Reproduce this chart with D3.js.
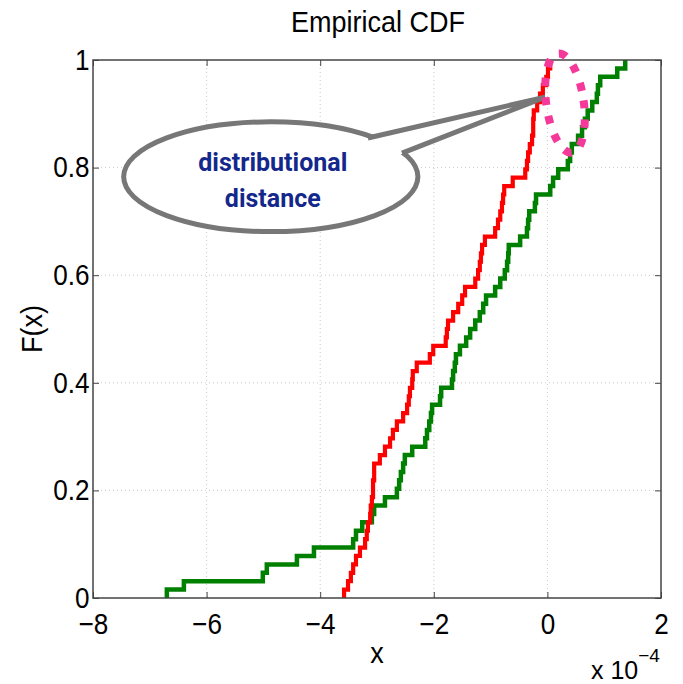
<!DOCTYPE html>
<html>
<head>
<meta charset="utf-8">
<script src="https://cdn.jsdelivr.net/npm/d3@7"></script>
<style>
  html, body { margin: 0; padding: 0; background: #fff; }
  svg { display: block; }
</style>
</head>
<body>
<script>
// Sorted samples (units of 1e-4) for the two empirical distributions
const redSamples = [
  -3.58, -3.51, -3.46, -3.42, -3.37, -3.30, -3.21, -3.18, -3.16, -3.12,
  -3.11, -3.09, -3.07, -3.07, -3.05, -3.05, -2.95, -2.86, -2.77, -2.72,
  -2.65, -2.54, -2.47, -2.44, -2.42, -2.38, -2.37, -2.30, -2.07, -2.01,
  -1.79, -1.77, -1.75, -1.66, -1.57, -1.50, -1.45, -1.27, -1.22, -1.19,
  -1.17, -1.15, -1.10, -0.92, -0.87, -0.83, -0.80, -0.78, -0.76, -0.61,
  -0.39, -0.36, -0.34, -0.31, -0.27, -0.25, -0.25, -0.24, -0.18, -0.13,
  -0.08, -0.02, 0.01, 0.05
];
const greenSamples = [
  -6.70, -6.40, -5.01, -4.94, -4.41, -4.11, -3.42, -3.37, -3.26, -3.09,
  -3.05, -2.86, -2.65, -2.61, -2.58, -2.54, -2.51, -2.38, -2.15, -2.12,
  -2.08, -2.05, -2.03, -1.89, -1.87, -1.68, -1.66, -1.63, -1.61, -1.54,
  -1.43, -1.36, -1.27, -1.19, -1.13, -1.08, -0.92, -0.83, -0.75, -0.71,
  -0.69, -0.68, -0.48, -0.36, -0.34, -0.32, -0.22, -0.20, 0.05, 0.10,
  0.19, 0.36, 0.40, 0.43, 0.54, 0.61, 0.66, 0.71, 0.79, 0.87,
  0.89, 0.93, 1.23, 1.37
];
const xTicks = [-8, -6, -4, -2, 0, 2];
const yTicks = [0, 0.2, 0.4, 0.6, 0.8, 1];
const yTickLabels = ["0", "0.2", "0.4", "0.6", "0.8", "1"];
const bubbleLines = ["distributional", "distance"];

const W = 683, H = 684;
const plot = { left: 93, right: 661, top: 60, bottom: 598 };

const svg = d3.select("body").append("svg").attr("width", W).attr("height", H);

const x = d3.scaleLinear().domain([-8, 2]).range([plot.left, plot.right]);
const y = d3.scaleLinear().domain([0, 1]).range([plot.bottom, plot.top]);

const tickFont = "'Liberation Sans', Arial, sans-serif";
const squeeze = "scale(0.9,1)";

// dotted grid
const grid = svg.append("g");
grid.selectAll("line.gx").data(xTicks.slice(1, -1)).join("line")
  .attr("x1", d => x(d)).attr("x2", d => x(d))
  .attr("y1", plot.top).attr("y2", plot.bottom)
  .attr("stroke", "#c8c8c8").attr("stroke-width", 1).attr("stroke-dasharray", "1,3");
grid.selectAll("line.gy").data(yTicks.slice(1, -1)).join("line")
  .attr("y1", d => y(d)).attr("y2", d => y(d))
  .attr("x1", plot.left).attr("x2", plot.right)
  .attr("stroke", "#c8c8c8").attr("stroke-width", 1).attr("stroke-dasharray", "1,3");

// empirical CDF stairs
function cdfPoints(samples) {
  const s = samples.slice().sort(d3.ascending);
  const n = s.length;
  const pts = [[s[0], 0]];
  s.forEach((v, i) => pts.push([v, (i + 1) / n]));
  return pts;
}
const stair = d3.line().x(d => x(d[0])).y(d => y(d[1])).curve(d3.curveStepAfter);

svg.append("path").datum(cdfPoints(greenSamples))
  .attr("d", stair).attr("fill", "none")
  .attr("stroke", "#008000").attr("stroke-width", 4.5).attr("stroke-linejoin", "miter");
svg.append("path").datum(cdfPoints(redSamples))
  .attr("d", stair).attr("fill", "none")
  .attr("stroke", "#ff0000").attr("stroke-width", 4.2).attr("stroke-linejoin", "miter");

// axes box
const axisColor = "#444";
svg.append("rect")
  .attr("x", plot.left).attr("y", plot.top)
  .attr("width", plot.right - plot.left).attr("height", plot.bottom - plot.top)
  .attr("fill", "none").attr("stroke", axisColor).attr("stroke-width", 1.5);

const xAxisB = d3.axisBottom(x).tickValues(xTicks).tickSizeInner(-6).tickSizeOuter(0)
  .tickFormat(d => d3.format("d")(d).replace("-", "\u2212"));
const gxb = svg.append("g").attr("transform", `translate(0,${plot.bottom})`).call(xAxisB);
gxb.select(".domain").remove();
gxb.selectAll(".tick line").attr("stroke", axisColor);
gxb.selectAll(".tick text").attr("font-family", tickFont).attr("font-size", 29)
  .attr("fill", "#000").attr("y", 36).attr("dy", 0).attr("transform", squeeze);

const gxt = svg.append("g").attr("transform", `translate(0,${plot.top})`)
  .call(d3.axisTop(x).tickValues(xTicks).tickSizeInner(-6).tickSizeOuter(0).tickFormat(""));
gxt.select(".domain").remove();
gxt.selectAll(".tick line").attr("stroke", axisColor);

const gyl = svg.append("g").attr("transform", `translate(${plot.left},0)`)
  .call(d3.axisLeft(y).tickValues(yTicks).tickSizeInner(-6).tickSizeOuter(0)
    .tickFormat((d, i) => yTickLabels[i]));
gyl.select(".domain").remove();
gyl.selectAll(".tick line").attr("stroke", axisColor);
gyl.selectAll(".tick text").attr("font-family", tickFont).attr("font-size", 29)
  .attr("fill", "#000").attr("x", -4).attr("transform", squeeze);

const gyr = svg.append("g").attr("transform", `translate(${plot.right},0)`)
  .call(d3.axisRight(y).tickValues(yTicks).tickSizeInner(-6).tickSizeOuter(0).tickFormat(""));
gyr.select(".domain").remove();
gyr.selectAll(".tick line").attr("stroke", axisColor);

// titles
function label(tx, ty, rot, size, str) {
  svg.append("text")
    .attr("transform", `translate(${tx},${ty}) rotate(${rot}) ${squeeze}`)
    .attr("text-anchor", "middle").attr("font-family", tickFont).attr("font-size", size)
    .text(str);
}
label((plot.left + plot.right) / 2 + 1, 32, 0, 30, "Empirical CDF");
label((plot.left + plot.right) / 2, 663, 0, 30, "x");
label(42, (plot.top + plot.bottom) / 2, -90, 30, "F(x)");

const expo = svg.append("text").attr("x", 591).attr("y", 679)
  .attr("font-family", tickFont).attr("font-size", 25);
expo.append("tspan").text("x 10");
expo.append("tspan").attr("dy", -17).attr("font-size", 19).text("\u22124");

// speech bubble (positions in data units)
const bubble = { cx: -4.87, cy: 0.783, rx: 2.59, ry: 0.102 };
const tail = { tipX: -0.04, tipY: 0.931, aX: -3.16, aY: 0.855, bX: -2.56, bY: 0.827 };
const bubbleG = svg.append("g");
bubbleG.append("ellipse")
  .attr("cx", x(bubble.cx)).attr("cy", y(bubble.cy))
  .attr("rx", x(bubble.rx) - x(0)).attr("ry", y(0) - y(bubble.ry))
  .attr("fill", "#fff").attr("stroke", "#777").attr("stroke-width", 5);
bubbleG.append("polygon")
  .attr("points", [
    [x(tail.aX), y(tail.aY) + 1],
    [x(tail.tipX), y(tail.tipY)],
    [x(tail.bX), y(tail.bY) + 1],
    [x((tail.aX + tail.bX) / 2), y((tail.aY + tail.bY) / 2) + 10]
  ].map(p => p.join(",")).join(" "))
  .attr("fill", "#fff");
bubbleG.append("path")
  .attr("d", `M${x(tail.aX)},${y(tail.aY)} L${x(tail.tipX)},${y(tail.tipY)} L${x(tail.bX)},${y(tail.bY)}`)
  .attr("fill", "none").attr("stroke", "#777").attr("stroke-width", 5)
  .attr("stroke-linejoin", "miter");
bubbleG.selectAll("text.b").data(bubbleLines).join("text")
  .attr("x", x(bubble.cx) + 2)
  .attr("y", (d, i) => y(bubble.cy) - 6 + i * 36)
  .attr("text-anchor", "middle")
  .attr("font-family", "Roboto, 'DejaVu Sans', sans-serif")
  .attr("font-weight", "bold").attr("font-size", 25)
  .attr("fill", "#14288c")
  .text(d => d);

// dotted highlight around the top of the curves
const ring = { cx: 0.31, cy: 0.92, rx: 0.33, ry: 0.093 };
svg.append("ellipse")
  .attr("cx", x(ring.cx)).attr("cy", y(ring.cy))
  .attr("rx", x(ring.rx) - x(0)).attr("ry", y(0) - y(ring.ry))
  .attr("transform", `rotate(-8,${x(ring.cx)},${y(ring.cy)})`)
  .attr("fill", "none").attr("stroke", "#f5399a").attr("stroke-width", 8)
  .attr("stroke-dasharray", "8,11");
</script>
</body>
</html>
